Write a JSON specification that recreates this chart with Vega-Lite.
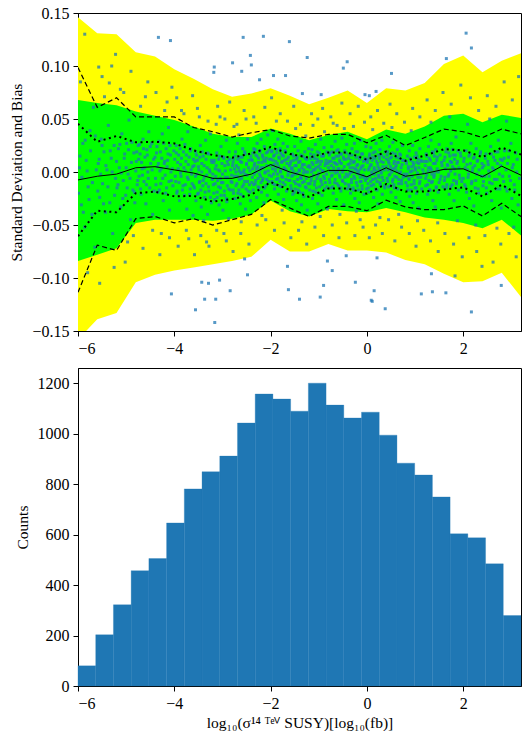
{
"$schema": "https://vega.github.io/schema/vega-lite/v6.json",
"padding": {"left": 9, "top": 4, "right": 0, "bottom": 0},
"autosize": {"type": "pad"},
"spacing": 10,
"config": {
 "font": "Liberation Serif",
 "view": {"stroke": "black", "strokeWidth": 1},
 "axis": {"grid": false, "domainColor": "black", "tickColor": "black", "labelColor": "black", "titleColor": "black", "labelFont": "Liberation Serif", "titleFont": "Liberation Serif", "labelFontSize": 16, "titleFontSize": 15.5, "titleFontWeight": "normal", "tickSize": 5, "labelPadding": 4, "titlePadding": 7}
},
"datasets": {
 "curves": [
  {"x":-6.0,"yl":-0.158,"yh":0.146,"gl":-0.084,"gh":0.068,"dl":-0.1135,"dh":0.0985,"ol":-0.0605,"oh":0.0455,"m":-0.0075},
  {"x":-5.6,"yl":-0.139,"yh":0.131,"gl":-0.078,"gh":0.065,"dl":-0.069,"dh":0.061,"ol":-0.0365,"oh":0.0285,"m":-0.004},
  {"x":-5.2,"yl":-0.133,"yh":0.130,"gl":-0.072,"gh":0.063,"dl":-0.074,"dh":0.070,"ol":-0.038,"oh":0.034,"m":-0.002},
  {"x":-4.8,"yl":-0.104,"yh":0.113,"gl":-0.048,"gh":0.057,"dl":-0.044,"dh":0.052,"ol":-0.020,"oh":0.028,"m":0.004},
  {"x":-4.4,"yl":-0.097,"yh":0.109,"gl":-0.045,"gh":0.053,"dl":-0.042,"dh":0.052,"ol":-0.0185,"oh":0.0285,"m":0.005},
  {"x":-4.0,"yl":-0.093,"yh":0.097,"gl":-0.045,"gh":0.049,"dl":-0.048,"dh":0.052,"ol":-0.023,"oh":0.027,"m":0.002},
  {"x":-3.6,"yl":-0.090,"yh":0.088,"gl":-0.045,"gh":0.043,"dl":-0.044,"dh":0.042,"ol":-0.0225,"oh":0.0205,"m":-0.001},
  {"x":-3.2,"yl":-0.087,"yh":0.078,"gl":-0.046,"gh":0.036,"dl":-0.050,"dh":0.038,"ol":-0.028,"oh":0.016,"m":-0.006},
  {"x":-2.8,"yl":-0.084,"yh":0.071,"gl":-0.044,"gh":0.033,"dl":-0.045,"dh":0.033,"ol":-0.0255,"oh":0.0135,"m":-0.006},
  {"x":-2.4,"yl":-0.080,"yh":0.074,"gl":-0.040,"gh":0.033,"dl":-0.040,"dh":0.037,"ol":-0.0215,"oh":0.0175,"m":-0.002},
  {"x":-2.0,"yl":-0.064,"yh":0.079,"gl":-0.027,"gh":0.041,"dl":-0.026,"dh":0.040,"ol":-0.0095,"oh":0.0235,"m":0.007},
  {"x":-1.6,"yl":-0.075,"yh":0.072,"gl":-0.037,"gh":0.036,"dl":-0.034,"dh":0.034,"ol":-0.017,"oh":0.017,"m":0.000},
  {"x":-1.2,"yl":-0.075,"yh":0.064,"gl":-0.042,"gh":0.030,"dl":-0.042,"dh":0.032,"ol":-0.0235,"oh":0.0135,"m":-0.005},
  {"x":-0.8,"yl":-0.068,"yh":0.070,"gl":-0.035,"gh":0.035,"dl":-0.0325,"dh":0.0355,"ol":-0.0155,"oh":0.0185,"m":0.0015},
  {"x":-0.4,"yl":-0.074,"yh":0.077,"gl":-0.037,"gh":0.038,"dl":-0.0325,"dh":0.0355,"ol":-0.0155,"oh":0.0185,"m":0.0015},
  {"x":0.0,"yl":-0.074,"yh":0.065,"gl":-0.038,"gh":0.031,"dl":-0.0365,"dh":0.0275,"ol":-0.0205,"oh":0.0115,"m":-0.0045},
  {"x":0.4,"yl":-0.076,"yh":0.079,"gl":-0.034,"gh":0.040,"dl":-0.0266,"dh":0.0346,"ol":-0.0113,"oh":0.0193,"m":0.004},
  {"x":0.8,"yl":-0.083,"yh":0.077,"gl":-0.038,"gh":0.036,"dl":-0.033,"dh":0.025,"ol":-0.0185,"oh":0.0105,"m":-0.004},
  {"x":1.2,"yl":-0.087,"yh":0.084,"gl":-0.043,"gh":0.043,"dl":-0.0355,"dh":0.0325,"ol":-0.0185,"oh":0.0155,"m":-0.0015},
  {"x":1.6,"yl":-0.096,"yh":0.102,"gl":-0.045,"gh":0.053,"dl":-0.0355,"dh":0.0405,"ol":-0.0165,"oh":0.0215,"m":0.0025},
  {"x":2.0,"yl":-0.104,"yh":0.110,"gl":-0.048,"gh":0.055,"dl":-0.032,"dh":0.038,"ol":-0.0145,"oh":0.0205,"m":0.003},
  {"x":2.4,"yl":-0.103,"yh":0.094,"gl":-0.053,"gh":0.047,"dl":-0.0415,"dh":0.0325,"ol":-0.023,"oh":0.014,"m":-0.0045},
  {"x":2.8,"yl":-0.095,"yh":0.105,"gl":-0.045,"gh":0.054,"dl":-0.0295,"dh":0.0405,"ol":-0.012,"oh":0.023,"m":0.0055},
  {"x":3.2,"yl":-0.118,"yh":0.112,"gl":-0.060,"gh":0.051,"dl":-0.042,"dh":0.036,"ol":-0.0225,"oh":0.0165,"m":-0.003}
 ],
 "hist": [
  {"bin_start":-6.0,"bin_end":-5.632,"count":80},
  {"bin_start":-5.632,"bin_end":-5.264,"count":203},
  {"bin_start":-5.264,"bin_end":-4.896,"count":322},
  {"bin_start":-4.896,"bin_end":-4.528,"count":457},
  {"bin_start":-4.528,"bin_end":-4.16,"count":505},
  {"bin_start":-4.16,"bin_end":-3.792,"count":646},
  {"bin_start":-3.792,"bin_end":-3.424,"count":781},
  {"bin_start":-3.424,"bin_end":-3.056,"count":849},
  {"bin_start":-3.056,"bin_end":-2.688,"count":911},
  {"bin_start":-2.688,"bin_end":-2.32,"count":1042},
  {"bin_start":-2.32,"bin_end":-1.952,"count":1157},
  {"bin_start":-1.952,"bin_end":-1.584,"count":1137},
  {"bin_start":-1.584,"bin_end":-1.216,"count":1089},
  {"bin_start":-1.216,"bin_end":-0.848,"count":1200},
  {"bin_start":-0.848,"bin_end":-0.48,"count":1113},
  {"bin_start":-0.48,"bin_end":-0.112,"count":1062},
  {"bin_start":-0.112,"bin_end":0.256,"count":1085},
  {"bin_start":0.256,"bin_end":0.624,"count":994},
  {"bin_start":0.624,"bin_end":0.992,"count":883},
  {"bin_start":0.992,"bin_end":1.36,"count":836},
  {"bin_start":1.36,"bin_end":1.728,"count":749},
  {"bin_start":1.728,"bin_end":2.096,"count":603},
  {"bin_start":2.096,"bin_end":2.464,"count":587},
  {"bin_start":2.464,"bin_end":2.832,"count":484},
  {"bin_start":2.832,"bin_end":3.2,"count":279}
 ],
 "points": [
{"x":-5.97,"y":0.004},{"x":-5.93,"y":-0.031},{"x":-5.90,"y":0.027},{"x":-5.86,"y":-0.052},{"x":-5.83,"y":0.011},{"x":-5.79,"y":-0.014},{"x":-5.75,"y":0.039},{"x":-5.71,"y":-0.040},{"x":-5.68,"y":0.061},{"x":-5.65,"y":-0.071},{"x":-5.62,"y":0.002},{"x":-5.95,"y":0.085},{"x":-5.80,"y":-0.095},
{"x":-5.58,"y":0.008},{"x":-5.55,"y":-0.024},{"x":-5.52,"y":0.031},{"x":-5.49,"y":-0.011},{"x":-5.46,"y":0.019},{"x":-5.43,"y":-0.038},{"x":-5.40,"y":0.002},{"x":-5.37,"y":0.044},{"x":-5.34,"y":-0.029},{"x":-5.31,"y":0.013},{"x":-5.28,"y":-0.058},{"x":-5.25,"y":0.025},{"x":-5.22,"y":-0.006},{"x":-5.45,"y":0.071},
{"x":-5.19,"y":-0.015},{"x":-5.16,"y":0.022},{"x":-5.14,"y":0.004},{"x":-5.11,"y":-0.033},{"x":-5.09,"y":0.036},{"x":-5.06,"y":-0.008},{"x":-5.04,"y":0.013},{"x":-5.01,"y":-0.022},{"x":-4.99,"y":0.027},{"x":-4.96,"y":-0.002},{"x":-4.94,"y":0.049},{"x":-4.91,"y":-0.045},{"x":-4.89,"y":0.009},{"x":-4.86,"y":-0.017},{"x":-4.84,"y":0.018},{"x":-4.82,"y":-0.029},{"x":-5.12,"y":0.078},{"x":-4.97,"y":-0.066},
{"x":-4.79,"y":0.010},{"x":-4.77,"y":-0.012},{"x":-4.75,"y":0.025},{"x":-4.73,"y":-0.004},{"x":-4.71,"y":0.017},{"x":-4.69,"y":-0.021},{"x":-4.67,"y":0.003},{"x":-4.65,"y":0.031},{"x":-4.63,"y":-0.009},{"x":-4.61,"y":0.014},{"x":-4.59,"y":-0.030},{"x":-4.57,"y":0.021},{"x":-4.55,"y":0.000},{"x":-4.53,"y":0.038},{"x":-4.51,"y":-0.015},{"x":-4.49,"y":0.008},{"x":-4.47,"y":0.027},{"x":-4.45,"y":-0.040},{"x":-4.43,"y":0.012},{"x":-4.60,"y":0.071},
{"x":-4.39,"y":-0.006},{"x":-4.37,"y":0.018},{"x":-4.35,"y":0.005},{"x":-4.34,"y":-0.019},{"x":-4.32,"y":0.029},{"x":-4.30,"y":0.001},{"x":-4.28,"y":-0.011},{"x":-4.26,"y":0.013},{"x":-4.25,"y":0.036},{"x":-4.23,"y":-0.027},{"x":-4.21,"y":0.008},{"x":-4.19,"y":-0.003},{"x":-4.17,"y":0.022},{"x":-4.16,"y":-0.015},{"x":-4.14,"y":0.011},{"x":-4.12,"y":0.042},{"x":-4.10,"y":-0.036},{"x":-4.08,"y":0.016},{"x":-4.06,"y":-0.008},{"x":-4.04,"y":0.003},{"x":-4.27,"y":-0.058},{"x":-4.15,"y":0.066},
{"x":-3.99,"y":0.012},{"x":-3.97,"y":-0.009},{"x":-3.96,"y":0.025},{"x":-3.94,"y":-0.018},{"x":-3.92,"y":0.003},{"x":-3.91,"y":0.016},{"x":-3.89,"y":-0.027},{"x":-3.87,"y":0.007},{"x":-3.86,"y":-0.004},{"x":-3.84,"y":0.031},{"x":-3.82,"y":-0.013},{"x":-3.81,"y":0.019},{"x":-3.79,"y":-0.022},{"x":-3.77,"y":0.001},{"x":-3.76,"y":0.010},{"x":-3.74,"y":-0.035},{"x":-3.72,"y":0.038},{"x":-3.71,"y":-0.007},{"x":-3.69,"y":0.014},{"x":-3.67,"y":-0.016},{"x":-3.66,"y":0.022},{"x":-3.64,"y":-0.002},{"x":-3.62,"y":0.005},{"x":-3.61,"y":-0.041},{"x":-3.85,"y":0.058},{"x":-3.70,"y":-0.063},
{"x":-3.59,"y":0.006},{"x":-3.58,"y":-0.015},{"x":-3.56,"y":0.019},{"x":-3.55,"y":-0.027},{"x":-3.53,"y":-0.002},{"x":-3.52,"y":0.011},{"x":-3.50,"y":-0.020},{"x":-3.49,"y":0.002},{"x":-3.47,"y":-0.009},{"x":-3.46,"y":0.025},{"x":-3.44,"y":-0.033},{"x":-3.43,"y":0.008},{"x":-3.41,"y":-0.013},{"x":-3.40,"y":0.015},{"x":-3.38,"y":-0.005},{"x":-3.37,"y":-0.024},{"x":-3.35,"y":0.030},{"x":-3.34,"y":-0.011},{"x":-3.32,"y":0.004},{"x":-3.31,"y":-0.040},{"x":-3.29,"y":0.017},{"x":-3.28,"y":-0.018},{"x":-3.26,"y":0.000},{"x":-3.25,"y":0.036},{"x":-3.23,"y":-0.029},{"x":-3.22,"y":0.009},{"x":-3.21,"y":-0.007},{"x":-3.48,"y":0.052},{"x":-3.33,"y":-0.066},{"x":-3.39,"y":-0.046},
{"x":-3.19,"y":-0.012},{"x":-3.18,"y":0.009},{"x":-3.16,"y":-0.026},{"x":-3.15,"y":0.003},{"x":-3.14,"y":-0.004},{"x":-3.12,"y":0.018},{"x":-3.11,"y":-0.019},{"x":-3.10,"y":-0.008},{"x":-3.08,"y":0.012},{"x":-3.07,"y":-0.031},{"x":-3.06,"y":0.001},{"x":-3.04,"y":-0.015},{"x":-3.03,"y":0.024},{"x":-3.02,"y":-0.010},{"x":-3.00,"y":-0.002},{"x":-2.99,"y":-0.036},{"x":-2.98,"y":0.014},{"x":-2.96,"y":-0.022},{"x":-2.95,"y":0.006},{"x":-2.94,"y":-0.005},{"x":-2.92,"y":0.030},{"x":-2.91,"y":-0.028},{"x":-2.90,"y":-0.013},{"x":-2.88,"y":0.007},{"x":-2.87,"y":-0.044},{"x":-2.86,"y":0.019},{"x":-2.84,"y":-0.017},{"x":-2.83,"y":0.002},{"x":-2.82,"y":-0.009},{"x":-3.13,"y":0.045},{"x":-2.97,"y":-0.058},{"x":-3.05,"y":0.052},
{"x":-2.79,"y":0.006},{"x":-2.78,"y":-0.017},{"x":-2.77,"y":0.012},{"x":-2.75,"y":-0.004},{"x":-2.74,"y":-0.025},{"x":-2.73,"y":0.019},{"x":-2.72,"y":0.000},{"x":-2.70,"y":-0.011},{"x":-2.69,"y":0.027},{"x":-2.68,"y":-0.020},{"x":-2.67,"y":0.004},{"x":-2.65,"y":-0.007},{"x":-2.64,"y":0.014},{"x":-2.63,"y":-0.030},{"x":-2.62,"y":-0.001},{"x":-2.60,"y":0.009},{"x":-2.59,"y":-0.014},{"x":-2.58,"y":0.022},{"x":-2.57,"y":-0.023},{"x":-2.55,"y":0.002},{"x":-2.54,"y":-0.009},{"x":-2.53,"y":0.017},{"x":-2.52,"y":-0.035},{"x":-2.50,"y":0.007},{"x":-2.49,"y":-0.003},{"x":-2.48,"y":0.031},{"x":-2.47,"y":-0.018},{"x":-2.45,"y":0.011},{"x":-2.44,"y":-0.012},{"x":-2.43,"y":0.001},{"x":-2.42,"y":-0.027},{"x":-2.41,"y":0.015},{"x":-2.76,"y":0.043},{"x":-2.61,"y":-0.047},{"x":-2.51,"y":0.050},{"x":-2.66,"y":0.035},
{"x":-2.39,"y":-0.010},{"x":-2.38,"y":0.011},{"x":-2.37,"y":0.003},{"x":-2.36,"y":-0.017},{"x":-2.35,"y":0.022},{"x":-2.34,"y":-0.002},{"x":-2.33,"y":0.008},{"x":-2.32,"y":-0.011},{"x":-2.31,"y":0.016},{"x":-2.30,"y":0.000},{"x":-2.29,"y":-0.024},{"x":-2.28,"y":0.027},{"x":-2.27,"y":0.005},{"x":-2.26,"y":-0.006},{"x":-2.25,"y":0.013},{"x":-2.24,"y":-0.015},{"x":-2.23,"y":0.019},{"x":-2.22,"y":0.002},{"x":-2.21,"y":-0.004},{"x":-2.20,"y":0.031},{"x":-2.19,"y":-0.019},{"x":-2.18,"y":0.009},{"x":-2.17,"y":-0.008},{"x":-2.16,"y":0.014},{"x":-2.15,"y":0.004},{"x":-2.14,"y":-0.029},{"x":-2.13,"y":0.024},{"x":-2.12,"y":-0.001},{"x":-2.11,"y":0.010},{"x":-2.10,"y":-0.013},{"x":-2.09,"y":0.018},{"x":-2.08,"y":0.006},{"x":-2.07,"y":-0.022},{"x":-2.06,"y":0.035},{"x":-2.05,"y":0.001},{"x":-2.04,"y":-0.009},{"x":-2.03,"y":0.021},{"x":-2.02,"y":0.012},{"x":-2.30,"y":0.046},{"x":-2.18,"y":-0.041},
{"x":-1.99,"y":0.012},{"x":-1.98,"y":-0.004},{"x":-1.97,"y":0.020},{"x":-1.96,"y":0.003},{"x":-1.95,"y":-0.011},{"x":-1.94,"y":0.015},{"x":-1.93,"y":0.007},{"x":-1.92,"y":-0.016},{"x":-1.91,"y":0.026},{"x":-1.90,"y":0.001},{"x":-1.89,"y":0.010},{"x":-1.88,"y":-0.007},{"x":-1.87,"y":0.018},{"x":-1.86,"y":-0.002},{"x":-1.85,"y":0.031},{"x":-1.84,"y":-0.021},{"x":-1.83,"y":0.005},{"x":-1.82,"y":0.013},{"x":-1.81,"y":-0.009},{"x":-1.80,"y":0.022},{"x":-1.79,"y":0.000},{"x":-1.78,"y":-0.014},{"x":-1.77,"y":0.009},{"x":-1.76,"y":0.016},{"x":-1.75,"y":-0.005},{"x":-1.74,"y":0.027},{"x":-1.73,"y":-0.026},{"x":-1.72,"y":0.004},{"x":-1.71,"y":0.011},{"x":-1.70,"y":-0.012},{"x":-1.69,"y":0.019},{"x":-1.68,"y":0.002},{"x":-1.67,"y":-0.018},{"x":-1.66,"y":0.008},{"x":-1.65,"y":0.024},{"x":-1.64,"y":-0.003},{"x":-1.63,"y":0.014},{"x":-1.62,"y":-0.008},{"x":-1.61,"y":0.006},{"x":-1.88,"y":0.048},{"x":-1.76,"y":-0.036},{"x":-1.96,"y":0.039},
{"x":-1.59,"y":0.008},{"x":-1.58,"y":-0.013},{"x":-1.57,"y":0.003},{"x":-1.56,"y":-0.004},{"x":-1.55,"y":0.017},{"x":-1.54,"y":-0.021},{"x":-1.53,"y":0.001},{"x":-1.52,"y":0.011},{"x":-1.51,"y":-0.009},{"x":-1.50,"y":0.024},{"x":-1.49,"y":-0.016},{"x":-1.48,"y":-0.002},{"x":-1.47,"y":0.006},{"x":-1.46,"y":-0.027},{"x":-1.45,"y":0.014},{"x":-1.44,"y":-0.007},{"x":-1.43,"y":0.020},{"x":-1.42,"y":-0.012},{"x":-1.41,"y":0.002},{"x":-1.40,"y":-0.019},{"x":-1.39,"y":0.010},{"x":-1.38,"y":-0.005},{"x":-1.37,"y":0.029},{"x":-1.36,"y":-0.031},{"x":-1.35,"y":0.004},{"x":-1.34,"y":-0.010},{"x":-1.33,"y":0.015},{"x":-1.32,"y":-0.001},{"x":-1.31,"y":-0.023},{"x":-1.30,"y":0.007},{"x":-1.29,"y":0.019},{"x":-1.28,"y":-0.014},{"x":-1.27,"y":0.000},{"x":-1.26,"y":-0.006},{"x":-1.25,"y":0.012},{"x":-1.24,"y":-0.036},{"x":-1.23,"y":0.005},{"x":-1.22,"y":-0.011},{"x":-1.21,"y":0.022},{"x":-1.48,"y":0.041},{"x":-1.35,"y":-0.047},{"x":-1.27,"y":0.034},
{"x":-1.19,"y":-0.017},{"x":-1.18,"y":0.004},{"x":-1.17,"y":0.013},{"x":-1.16,"y":-0.008},{"x":-1.15,"y":0.000},{"x":-1.14,"y":0.021},{"x":-1.13,"y":-0.025},{"x":-1.12,"y":0.007},{"x":-1.11,"y":-0.003},{"x":-1.10,"y":0.016},{"x":-1.09,"y":-0.012},{"x":-1.08,"y":0.002},{"x":-1.07,"y":0.026},{"x":-1.06,"y":-0.019},{"x":-1.05,"y":0.009},{"x":-1.04,"y":-0.006},{"x":-1.03,"y":0.012},{"x":-1.02,"y":-0.030},{"x":-1.01,"y":0.005},{"x":-1.00,"y":-0.001},{"x":-0.99,"y":0.018},{"x":-0.98,"y":-0.014},{"x":-0.97,"y":0.003},{"x":-0.96,"y":0.031},{"x":-0.95,"y":-0.009},{"x":-0.94,"y":0.010},{"x":-0.93,"y":-0.022},{"x":-0.92,"y":0.001},{"x":-0.91,"y":0.015},{"x":-0.90,"y":-0.004},{"x":-0.89,"y":0.023},{"x":-0.88,"y":-0.016},{"x":-0.87,"y":0.006},{"x":-0.86,"y":-0.010},{"x":-0.85,"y":0.011},{"x":-0.84,"y":-0.002},{"x":-0.83,"y":0.019},{"x":-0.82,"y":-0.035},{"x":-0.81,"y":0.008},{"x":-1.12,"y":0.044},{"x":-0.97,"y":-0.042},{"x":-0.88,"y":0.038},
{"x":-0.79,"y":0.010},{"x":-0.78,"y":-0.007},{"x":-0.77,"y":0.018},{"x":-0.76,"y":0.001},{"x":-0.75,"y":-0.015},{"x":-0.74,"y":0.006},{"x":-0.73,"y":0.024},{"x":-0.72,"y":-0.003},{"x":-0.71,"y":0.013},{"x":-0.70,"y":-0.020},{"x":-0.69,"y":0.004},{"x":-0.68,"y":0.009},{"x":-0.67,"y":-0.010},{"x":-0.66,"y":0.029},{"x":-0.65,"y":-0.001},{"x":-0.64,"y":0.015},{"x":-0.63,"y":-0.026},{"x":-0.62,"y":0.007},{"x":-0.61,"y":0.000},{"x":-0.60,"y":0.021},{"x":-0.59,"y":-0.013},{"x":-0.58,"y":0.003},{"x":-0.57,"y":0.011},{"x":-0.56,"y":-0.005},{"x":-0.55,"y":0.017},{"x":-0.54,"y":-0.018},{"x":-0.53,"y":0.008},{"x":-0.52,"y":0.032},{"x":-0.51,"y":-0.008},{"x":-0.50,"y":0.002},{"x":-0.49,"y":0.014},{"x":-0.48,"y":-0.031},{"x":-0.47,"y":0.005},{"x":-0.46,"y":0.020},{"x":-0.45,"y":-0.011},{"x":-0.44,"y":0.012},{"x":-0.43,"y":-0.002},{"x":-0.42,"y":0.026},{"x":-0.41,"y":-0.016},{"x":-0.70,"y":0.046},{"x":-0.56,"y":-0.040},{"x":-0.47,"y":0.041},
{"x":-0.39,"y":0.007},{"x":-0.38,"y":-0.012},{"x":-0.37,"y":0.016},{"x":-0.36,"y":-0.002},{"x":-0.35,"y":0.004},{"x":-0.34,"y":-0.020},{"x":-0.33,"y":0.011},{"x":-0.32,"y":-0.007},{"x":-0.31,"y":0.022},{"x":-0.30,"y":0.000},{"x":-0.29,"y":-0.015},{"x":-0.28,"y":0.009},{"x":-0.27,"y":-0.004},{"x":-0.26,"y":0.027},{"x":-0.25,"y":-0.025},{"x":-0.24,"y":0.003},{"x":-0.23,"y":0.014},{"x":-0.22,"y":-0.010},{"x":-0.21,"y":0.006},{"x":-0.20,"y":-0.001},{"x":-0.19,"y":0.019},{"x":-0.18,"y":-0.017},{"x":-0.17,"y":0.001},{"x":-0.16,"y":-0.029},{"x":-0.15,"y":0.012},{"x":-0.14,"y":-0.005},{"x":-0.13,"y":0.030},{"x":-0.12,"y":-0.009},{"x":-0.11,"y":0.005},{"x":-0.10,"y":-0.013},{"x":-0.09,"y":0.017},{"x":-0.08,"y":-0.003},{"x":-0.07,"y":0.010},{"x":-0.06,"y":-0.021},{"x":-0.05,"y":0.002},{"x":-0.04,"y":0.013},{"x":-0.03,"y":-0.008},{"x":-0.02,"y":0.024},{"x":-0.01,"y":-0.016},{"x":-0.28,"y":0.043},{"x":-0.14,"y":-0.045},{"x":-0.22,"y":-0.037},
{"x":0.01,"y":0.009},{"x":0.02,"y":-0.011},{"x":0.03,"y":0.002},{"x":0.04,"y":-0.019},{"x":0.05,"y":0.015},{"x":0.06,"y":-0.004},{"x":0.07,"y":0.006},{"x":0.08,"y":0.023},{"x":0.09,"y":-0.013},{"x":0.10,"y":0.000},{"x":0.11,"y":0.011},{"x":0.12,"y":-0.007},{"x":0.13,"y":0.018},{"x":0.14,"y":-0.024},{"x":0.15,"y":0.004},{"x":0.16,"y":-0.002},{"x":0.17,"y":0.013},{"x":0.18,"y":-0.016},{"x":0.19,"y":0.027},{"x":0.20,"y":0.001},{"x":0.21,"y":-0.009},{"x":0.22,"y":0.008},{"x":0.23,"y":-0.030},{"x":0.24,"y":0.016},{"x":0.25,"y":-0.005},{"x":0.26,"y":0.003},{"x":0.27,"y":0.021},{"x":0.28,"y":-0.012},{"x":0.29,"y":0.010},{"x":0.30,"y":-0.001},{"x":0.31,"y":0.030},{"x":0.32,"y":-0.021},{"x":0.33,"y":0.005},{"x":0.34,"y":-0.008},{"x":0.35,"y":0.014},{"x":0.36,"y":0.002},{"x":0.37,"y":-0.015},{"x":0.38,"y":0.019},{"x":0.12,"y":0.040},{"x":0.27,"y":-0.043},
{"x":0.41,"y":0.012},{"x":0.42,"y":-0.006},{"x":0.43,"y":0.019},{"x":0.44,"y":0.002},{"x":0.45,"y":-0.014},{"x":0.46,"y":0.008},{"x":0.47,"y":0.024},{"x":0.48,"y":-0.002},{"x":0.49,"y":0.005},{"x":0.50,"y":-0.019},{"x":0.51,"y":0.014},{"x":0.52,"y":0.000},{"x":0.53,"y":-0.009},{"x":0.54,"y":0.028},{"x":0.55,"y":0.003},{"x":0.56,"y":-0.012},{"x":0.57,"y":0.010},{"x":0.58,"y":-0.004},{"x":0.59,"y":0.017},{"x":0.60,"y":-0.024},{"x":0.61,"y":0.006},{"x":0.62,"y":0.001},{"x":0.63,"y":0.021},{"x":0.64,"y":-0.016},{"x":0.65,"y":0.009},{"x":0.66,"y":-0.007},{"x":0.67,"y":0.013},{"x":0.68,"y":-0.001},{"x":0.69,"y":-0.028},{"x":0.70,"y":0.016},{"x":0.71,"y":0.004},{"x":0.72,"y":-0.011},{"x":0.73,"y":0.007},{"x":0.74,"y":0.025},{"x":0.75,"y":-0.005},{"x":0.77,"y":0.011},{"x":0.52,"y":0.042},{"x":0.66,"y":-0.040},
{"x":0.81,"y":-0.010},{"x":0.82,"y":0.008},{"x":0.83,"y":-0.002},{"x":0.84,"y":0.015},{"x":0.85,"y":-0.017},{"x":0.86,"y":0.003},{"x":0.87,"y":-0.006},{"x":0.88,"y":0.020},{"x":0.89,"y":-0.023},{"x":0.90,"y":0.000},{"x":0.91,"y":0.011},{"x":0.92,"y":-0.012},{"x":0.93,"y":0.005},{"x":0.94,"y":-0.004},{"x":0.95,"y":0.025},{"x":0.96,"y":-0.029},{"x":0.97,"y":0.007},{"x":0.98,"y":-0.008},{"x":0.99,"y":0.014},{"x":1.00,"y":-0.015},{"x":1.01,"y":0.002},{"x":1.02,"y":0.018},{"x":1.03,"y":-0.020},{"x":1.04,"y":0.009},{"x":1.05,"y":-0.001},{"x":1.06,"y":0.012},{"x":1.07,"y":-0.034},{"x":1.08,"y":0.004},{"x":1.09,"y":-0.011},{"x":1.10,"y":0.022},{"x":1.12,"y":-0.005},{"x":1.14,"y":0.010},{"x":0.92,"y":0.039},{"x":1.05,"y":-0.046},
{"x":1.21,"y":0.006},{"x":1.22,"y":-0.013},{"x":1.23,"y":0.017},{"x":1.24,"y":-0.003},{"x":1.25,"y":0.010},{"x":1.26,"y":-0.021},{"x":1.27,"y":0.001},{"x":1.28,"y":0.024},{"x":1.29,"y":-0.008},{"x":1.30,"y":0.013},{"x":1.31,"y":-0.017},{"x":1.32,"y":0.004},{"x":1.33,"y":0.030},{"x":1.34,"y":-0.010},{"x":1.35,"y":-0.002},{"x":1.36,"y":0.019},{"x":1.37,"y":-0.027},{"x":1.38,"y":0.008},{"x":1.39,"y":-0.005},{"x":1.40,"y":0.015},{"x":1.41,"y":0.000},{"x":1.42,"y":-0.033},{"x":1.43,"y":0.021},{"x":1.44,"y":-0.014},{"x":1.45,"y":0.011},{"x":1.46,"y":0.003},{"x":1.48,"y":-0.019},{"x":1.50,"y":0.026},{"x":1.52,"y":-0.007},{"x":1.55,"y":0.009},{"x":1.33,"y":0.047},{"x":1.47,"y":-0.048},
{"x":1.61,"y":-0.008},{"x":1.62,"y":0.014},{"x":1.63,"y":0.003},{"x":1.65,"y":-0.015},{"x":1.66,"y":0.022},{"x":1.67,"y":0.007},{"x":1.69,"y":-0.004},{"x":1.70,"y":0.018},{"x":1.71,"y":-0.021},{"x":1.73,"y":0.010},{"x":1.74,"y":0.001},{"x":1.75,"y":0.027},{"x":1.77,"y":-0.012},{"x":1.78,"y":0.005},{"x":1.79,"y":0.016},{"x":1.81,"y":-0.027},{"x":1.82,"y":0.012},{"x":1.83,"y":-0.002},{"x":1.85,"y":0.033},{"x":1.86,"y":-0.009},{"x":1.87,"y":0.008},{"x":1.89,"y":0.020},{"x":1.90,"y":-0.017},{"x":1.91,"y":0.004},{"x":1.93,"y":-0.006},{"x":1.95,"y":0.015},{"x":1.72,"y":0.052},{"x":1.88,"y":-0.046},
{"x":2.01,"y":0.010},{"x":2.03,"y":-0.012},{"x":2.04,"y":0.004},{"x":2.06,"y":0.020},{"x":2.07,"y":-0.019},{"x":2.09,"y":0.002},{"x":2.10,"y":-0.005},{"x":2.12,"y":0.015},{"x":2.13,"y":-0.025},{"x":2.15,"y":0.008},{"x":2.16,"y":0.027},{"x":2.18,"y":-0.009},{"x":2.19,"y":0.001},{"x":2.21,"y":0.013},{"x":2.22,"y":-0.032},{"x":2.24,"y":0.006},{"x":2.25,"y":-0.015},{"x":2.27,"y":0.022},{"x":2.28,"y":-0.002},{"x":2.30,"y":0.011},{"x":2.32,"y":-0.020},{"x":2.35,"y":0.017},{"x":2.09,"y":0.045},{"x":2.26,"y":-0.050},
{"x":2.41,"y":-0.013},{"x":2.43,"y":0.006},{"x":2.45,"y":-0.004},{"x":2.47,"y":0.017},{"x":2.49,"y":-0.020},{"x":2.51,"y":0.010},{"x":2.53,"y":0.001},{"x":2.55,"y":-0.010},{"x":2.57,"y":0.024},{"x":2.59,"y":-0.027},{"x":2.61,"y":0.004},{"x":2.63,"y":0.014},{"x":2.65,"y":-0.007},{"x":2.67,"y":0.019},{"x":2.69,"y":-0.016},{"x":2.71,"y":0.008},{"x":2.73,"y":0.030},{"x":2.75,"y":-0.002},{"x":2.77,"y":0.012},{"x":2.79,"y":-0.034},{"x":2.55,"y":0.050},{"x":2.70,"y":-0.053},
{"x":2.81,"y":0.011},{"x":2.84,"y":-0.009},{"x":2.86,"y":0.020},{"x":2.89,"y":0.002},{"x":2.91,"y":-0.018},{"x":2.94,"y":0.014},{"x":2.96,"y":-0.004},{"x":2.99,"y":0.027},{"x":3.01,"y":-0.025},{"x":3.04,"y":0.007},{"x":3.06,"y":-0.012},{"x":3.09,"y":0.018},{"x":3.11,"y":0.000},{"x":3.14,"y":-0.031},{"x":2.90,"y":0.048},{"x":3.05,"y":-0.052},
{"x":-5.99,"y":-0.020},{"x":-5.96,"y":0.015},{"x":-5.92,"y":-0.005},{"x":-5.89,"y":-0.038},{"x":-5.85,"y":0.030},{"x":-5.81,"y":0.001},{"x":-5.77,"y":-0.026},{"x":-5.74,"y":0.020},{"x":-5.70,"y":-0.010},{"x":-5.64,"y":0.034},
{"x":-5.59,"y":-0.018},{"x":-5.56,"y":0.012},{"x":-5.53,"y":-0.002},{"x":-5.50,"y":0.025},{"x":-5.47,"y":-0.030},{"x":-5.42,"y":0.006},{"x":-5.38,"y":-0.014},{"x":-5.33,"y":0.020},{"x":-5.29,"y":0.000},{"x":-5.24,"y":-0.022},
{"x":-5.20,"y":0.010},{"x":-5.17,"y":-0.012},{"x":-5.13,"y":0.026},{"x":-5.10,"y":-0.001},{"x":-5.07,"y":-0.025},{"x":-5.03,"y":0.017},{"x":-5.00,"y":0.004},{"x":-4.98,"y":-0.015},{"x":-4.95,"y":0.021},{"x":-4.92,"y":-0.006},{"x":-4.88,"y":0.028},{"x":-4.83,"y":-0.019},
{"x":-4.80,"y":0.001},{"x":-4.78,"y":0.019},{"x":-4.76,"y":-0.008},{"x":-4.74,"y":0.012},{"x":-4.72,"y":0.026},{"x":-4.70,"y":-0.016},{"x":-4.68,"y":0.009},{"x":-4.66,"y":-0.003},{"x":-4.64,"y":0.022},{"x":-4.62,"y":0.004},{"x":-4.58,"y":-0.012},{"x":-4.56,"y":0.016},{"x":-4.54,"y":-0.006},{"x":-4.50,"y":0.024},{"x":-4.46,"y":0.002},{"x":-4.42,"y":-0.018},
{"x":-4.40,"y":0.014},{"x":-4.38,"y":-0.012},{"x":-4.36,"y":0.024},{"x":-4.33,"y":0.008},{"x":-4.31,"y":-0.017},{"x":-4.29,"y":0.019},{"x":-4.27,"y":0.003},{"x":-4.24,"y":-0.006},{"x":-4.22,"y":0.027},{"x":-4.20,"y":0.010},{"x":-4.18,"y":-0.020},{"x":-4.15,"y":0.005},{"x":-4.13,"y":0.017},{"x":-4.11,"y":-0.009},{"x":-4.09,"y":0.025},{"x":-4.07,"y":0.000},{"x":-4.03,"y":-0.013},{"x":-4.01,"y":0.020},
{"x":-3.98,"y":-0.004},{"x":-3.96,"y":0.018},{"x":-3.95,"y":-0.020},{"x":-3.93,"y":0.009},{"x":-3.90,"y":-0.010},{"x":-3.88,"y":0.022},{"x":-3.87,"y":-0.001},{"x":-3.85,"y":0.013},{"x":-3.83,"y":-0.017},{"x":-3.80,"y":0.004},{"x":-3.78,"y":0.026},{"x":-3.77,"y":-0.012},{"x":-3.75,"y":0.016},{"x":-3.73,"y":-0.005},{"x":-3.71,"y":0.007},{"x":-3.68,"y":-0.021},{"x":-3.67,"y":0.020},{"x":-3.65,"y":0.002},{"x":-3.63,"y":-0.011},{"x":-3.60,"y":0.012},
{"x":-3.60,"y":-0.013},{"x":-3.57,"y":0.010},{"x":-3.56,"y":-0.004},{"x":-3.54,"y":0.016},{"x":-3.52,"y":-0.021},{"x":-3.50,"y":0.005},{"x":-3.48,"y":-0.010},{"x":-3.47,"y":0.014},{"x":-3.45,"y":-0.017},{"x":-3.43,"y":0.000},{"x":-3.42,"y":0.019},{"x":-3.40,"y":-0.008},{"x":-3.38,"y":0.006},{"x":-3.36,"y":-0.019},{"x":-3.34,"y":0.012},{"x":-3.33,"y":-0.003},{"x":-3.31,"y":0.018},{"x":-3.29,"y":-0.014},{"x":-3.27,"y":0.002},{"x":-3.25,"y":-0.024},{"x":-3.23,"y":0.011},{"x":-3.21,"y":-0.006},
{"x":-3.20,"y":-0.002},{"x":-3.18,"y":-0.020},{"x":-3.17,"y":0.011},{"x":-3.15,"y":-0.011},{"x":-3.13,"y":0.006},{"x":-3.11,"y":-0.024},{"x":-3.09,"y":0.002},{"x":-3.08,"y":-0.014},{"x":-3.06,"y":0.015},{"x":-3.04,"y":-0.006},{"x":-3.03,"y":-0.022},{"x":-3.01,"y":0.008},{"x":-2.99,"y":-0.010},{"x":-2.97,"y":0.013},{"x":-2.96,"y":-0.018},{"x":-2.94,"y":0.001},{"x":-2.92,"y":-0.025},{"x":-2.90,"y":0.010},{"x":-2.89,"y":-0.005},{"x":-2.87,"y":-0.016},{"x":-2.85,"y":0.012},{"x":-2.81,"y":-0.003},
{"x":-2.80,"y":-0.010},{"x":-2.78,"y":0.009},{"x":-2.77,"y":-0.020},{"x":-2.75,"y":0.003},{"x":-2.74,"y":0.015},{"x":-2.72,"y":-0.013},{"x":-2.71,"y":0.006},{"x":-2.69,"y":-0.004},{"x":-2.68,"y":0.012},{"x":-2.66,"y":-0.017},{"x":-2.65,"y":0.001},{"x":-2.63,"y":0.010},{"x":-2.62,"y":-0.021},{"x":-2.60,"y":-0.006},{"x":-2.59,"y":0.014},{"x":-2.57,"y":0.000},{"x":-2.56,"y":-0.012},{"x":-2.54,"y":0.019},{"x":-2.53,"y":-0.002},{"x":-2.51,"y":-0.016},{"x":-2.50,"y":0.008},{"x":-2.48,"y":-0.009},{"x":-2.46,"y":0.004},{"x":-2.43,"y":-0.019},
{"x":-2.40,"y":0.012},{"x":-2.38,"y":-0.005},{"x":-2.37,"y":0.018},{"x":-2.35,"y":-0.012},{"x":-2.34,"y":0.006},{"x":-2.32,"y":0.021},{"x":-2.31,"y":-0.008},{"x":-2.29,"y":0.003},{"x":-2.28,"y":0.015},{"x":-2.26,"y":-0.014},{"x":-2.25,"y":0.009},{"x":-2.23,"y":-0.002},{"x":-2.22,"y":0.020},{"x":-2.20,"y":-0.010},{"x":-2.19,"y":0.004},{"x":-2.17,"y":0.016},{"x":-2.16,"y":-0.006},{"x":-2.14,"y":0.011},{"x":-2.13,"y":-0.015},{"x":-2.11,"y":0.000},{"x":-2.09,"y":0.013},{"x":-2.08,"y":-0.007},{"x":-2.06,"y":0.019},{"x":-2.03,"y":-0.003},
{"x":-2.00,"y":0.006},{"x":-1.98,"y":0.019},{"x":-1.97,"y":-0.009},{"x":-1.95,"y":0.011},{"x":-1.94,"y":-0.002},{"x":-1.92,"y":0.016},{"x":-1.91,"y":-0.012},{"x":-1.89,"y":0.004},{"x":-1.88,"y":0.021},{"x":-1.86,"y":0.008},{"x":-1.85,"y":-0.006},{"x":-1.83,"y":0.014},{"x":-1.82,"y":-0.013},{"x":-1.80,"y":0.001},{"x":-1.79,"y":0.018},{"x":-1.77,"y":-0.004},{"x":-1.76,"y":0.010},{"x":-1.74,"y":-0.010},{"x":-1.73,"y":0.015},{"x":-1.71,"y":0.003},{"x":-1.70,"y":0.020},{"x":-1.68,"y":-0.007},{"x":-1.66,"y":0.012},{"x":-1.63,"y":0.000},
{"x":-1.60,"y":-0.008},{"x":-1.58,"y":0.010},{"x":-1.57,"y":-0.016},{"x":-1.55,"y":0.004},{"x":-1.54,"y":-0.003},{"x":-1.52,"y":0.015},{"x":-1.51,"y":-0.019},{"x":-1.49,"y":0.006},{"x":-1.48,"y":-0.011},{"x":-1.46,"y":0.012},{"x":-1.45,"y":-0.001},{"x":-1.43,"y":-0.017},{"x":-1.42,"y":0.009},{"x":-1.40,"y":0.001},{"x":-1.39,"y":-0.013},{"x":-1.37,"y":0.016},{"x":-1.36,"y":-0.006},{"x":-1.34,"y":0.007},{"x":-1.33,"y":-0.020},{"x":-1.31,"y":0.002},{"x":-1.30,"y":-0.009},{"x":-1.28,"y":0.013},{"x":-1.26,"y":-0.015},{"x":-1.23,"y":0.000},
{"x":-1.20,"y":0.006},{"x":-1.18,"y":-0.011},{"x":-1.17,"y":0.017},{"x":-1.15,"y":-0.005},{"x":-1.14,"y":0.009},{"x":-1.12,"y":-0.018},{"x":-1.11,"y":0.002},{"x":-1.09,"y":0.013},{"x":-1.08,"y":-0.009},{"x":-1.06,"y":0.004},{"x":-1.05,"y":-0.015},{"x":-1.03,"y":0.019},{"x":-1.02,"y":-0.003},{"x":-1.00,"y":0.010},{"x":-0.99,"y":-0.020},{"x":-0.97,"y":0.007},{"x":-0.96,"y":-0.007},{"x":-0.94,"y":0.015},{"x":-0.93,"y":-0.012},{"x":-0.91,"y":0.001},{"x":-0.90,"y":0.016},{"x":-0.88,"y":-0.006},{"x":-0.86,"y":0.008},{"x":-0.83,"y":-0.014},
{"x":-0.80,"y":0.004},{"x":-0.78,"y":0.016},{"x":-0.77,"y":-0.010},{"x":-0.75,"y":0.010},{"x":-0.74,"y":-0.004},{"x":-0.72,"y":0.019},{"x":-0.71,"y":-0.014},{"x":-0.69,"y":0.001},{"x":-0.68,"y":0.013},{"x":-0.66,"y":-0.007},{"x":-0.65,"y":0.008},{"x":-0.63,"y":0.020},{"x":-0.62,"y":-0.011},{"x":-0.60,"y":0.003},{"x":-0.59,"y":0.015},{"x":-0.57,"y":-0.003},{"x":-0.56,"y":0.009},{"x":-0.54,"y":-0.015},{"x":-0.53,"y":0.017},{"x":-0.51,"y":0.000},{"x":-0.50,"y":-0.009},{"x":-0.48,"y":0.012},{"x":-0.46,"y":-0.005},{"x":-0.43,"y":0.018},
{"x":-0.40,"y":-0.004},{"x":-0.38,"y":0.013},{"x":-0.37,"y":-0.014},{"x":-0.35,"y":0.008},{"x":-0.34,"y":0.000},{"x":-0.32,"y":-0.010},{"x":-0.31,"y":0.016},{"x":-0.29,"y":0.004},{"x":-0.28,"y":-0.017},{"x":-0.26,"y":0.010},{"x":-0.25,"y":-0.006},{"x":-0.23,"y":0.019},{"x":-0.22,"y":0.002},{"x":-0.20,"y":-0.013},{"x":-0.19,"y":0.007},{"x":-0.17,"y":-0.002},{"x":-0.16,"y":0.014},{"x":-0.14,"y":-0.009},{"x":-0.13,"y":0.003},{"x":-0.11,"y":0.017},{"x":-0.10,"y":-0.016},{"x":-0.08,"y":0.006},{"x":-0.06,"y":-0.005},{"x":-0.03,"y":0.011},
{"x":0.00,"y":-0.006},{"x":0.02,"y":0.012},{"x":0.03,"y":-0.015},{"x":0.05,"y":0.004},{"x":0.06,"y":0.017},{"x":0.08,"y":-0.009},{"x":0.09,"y":0.007},{"x":0.11,"y":-0.002},{"x":0.12,"y":0.014},{"x":0.14,"y":-0.012},{"x":0.15,"y":0.002},{"x":0.17,"y":0.019},{"x":0.18,"y":-0.006},{"x":0.20,"y":0.010},{"x":0.21,"y":-0.017},{"x":0.23,"y":0.005},{"x":0.24,"y":-0.003},{"x":0.26,"y":0.013},{"x":0.27,"y":-0.010},{"x":0.29,"y":0.001},{"x":0.30,"y":0.016},{"x":0.32,"y":-0.005},{"x":0.34,"y":0.009},{"x":0.37,"y":-0.013},
{"x":0.40,"y":0.005},{"x":0.42,"y":0.016},{"x":0.43,"y":-0.009},{"x":0.45,"y":0.010},{"x":0.46,"y":-0.003},{"x":0.48,"y":0.013},{"x":0.49,"y":-0.013},{"x":0.51,"y":0.002},{"x":0.53,"y":0.018},{"x":0.54,"y":-0.007},{"x":0.56,"y":0.008},{"x":0.57,"y":-0.015},{"x":0.59,"y":0.004},{"x":0.61,"y":0.014},{"x":0.62,"y":-0.005},{"x":0.64,"y":0.009},{"x":0.66,"y":-0.011},{"x":0.68,"y":0.017},{"x":0.70,"y":0.000},{"x":0.72,"y":-0.008},{"x":0.74,"y":0.011},{"x":0.77,"y":-0.002},
{"x":0.80,"y":-0.004},{"x":0.82,"y":0.010},{"x":0.84,"y":-0.013},{"x":0.86,"y":0.005},{"x":0.88,"y":-0.007},{"x":0.90,"y":0.013},{"x":0.92,"y":-0.017},{"x":0.94,"y":0.001},{"x":0.96,"y":0.009},{"x":0.98,"y":-0.011},{"x":1.00,"y":0.004},{"x":1.02,"y":-0.015},{"x":1.04,"y":0.015},{"x":1.06,"y":-0.005},{"x":1.08,"y":0.008},{"x":1.10,"y":-0.009},{"x":1.12,"y":0.011},{"x":1.14,"y":-0.016},{"x":1.16,"y":0.002},{"x":1.18,"y":-0.001},
{"x":1.20,"y":0.010},{"x":1.22,"y":-0.006},{"x":1.24,"y":0.015},{"x":1.26,"y":-0.012},{"x":1.28,"y":0.004},{"x":1.30,"y":-0.017},{"x":1.32,"y":0.011},{"x":1.34,"y":0.002},{"x":1.36,"y":-0.009},{"x":1.38,"y":0.018},{"x":1.40,"y":-0.003},{"x":1.42,"y":0.008},{"x":1.44,"y":-0.015},{"x":1.46,"y":0.014},{"x":1.48,"y":0.000},{"x":1.50,"y":-0.010},{"x":1.52,"y":0.016},{"x":1.54,"y":-0.004},{"x":1.56,"y":0.006},{"x":1.58,"y":-0.014},
{"x":1.60,"y":0.011},{"x":1.62,"y":-0.005},{"x":1.64,"y":0.019},{"x":1.66,"y":-0.012},{"x":1.68,"y":0.006},{"x":1.70,"y":-0.002},{"x":1.72,"y":0.015},{"x":1.74,"y":-0.014},{"x":1.76,"y":0.009},{"x":1.78,"y":0.021},{"x":1.80,"y":-0.008},{"x":1.82,"y":0.003},{"x":1.84,"y":0.016},{"x":1.86,"y":-0.011},{"x":1.88,"y":0.010},{"x":1.92,"y":-0.003},{"x":1.94,"y":0.018},{"x":1.97,"y":-0.009},
{"x":2.00,"y":-0.006},{"x":2.02,"y":0.013},{"x":2.05,"y":-0.014},{"x":2.08,"y":0.007},{"x":2.11,"y":-0.002},{"x":2.14,"y":0.017},{"x":2.17,"y":-0.011},{"x":2.20,"y":0.004},{"x":2.23,"y":0.014},{"x":2.26,"y":-0.008},{"x":2.29,"y":0.010},{"x":2.31,"y":-0.016},{"x":2.33,"y":0.002},{"x":2.36,"y":0.019},{"x":2.38,"y":-0.004},{"x":2.39,"y":0.008},
{"x":2.40,"y":0.004},{"x":2.42,"y":-0.009},{"x":2.46,"y":0.013},{"x":2.48,"y":-0.015},{"x":2.52,"y":0.007},{"x":2.54,"y":-0.004},{"x":2.58,"y":0.017},{"x":2.60,"y":-0.011},{"x":2.64,"y":0.002},{"x":2.66,"y":0.011},{"x":2.70,"y":-0.007},{"x":2.72,"y":0.019},{"x":2.76,"y":-0.016},{"x":2.78,"y":0.006},
{"x":2.82,"y":-0.004},{"x":2.85,"y":0.013},{"x":2.88,"y":-0.015},{"x":2.92,"y":0.008},{"x":2.95,"y":0.020},{"x":2.98,"y":-0.008},{"x":3.02,"y":0.004},{"x":3.07,"y":-0.017},{"x":3.12,"y":0.012},{"x":3.17,"y":-0.006},
{"x":-5.50,"y":0.090},{"x":-5.30,"y":0.100},{"x":-5.05,"y":0.075},{"x":-4.90,"y":0.095},{"x":-4.70,"y":0.062},{"x":-4.55,"y":0.085},{"x":-4.38,"y":0.075},{"x":-4.20,"y":0.058},{"x":-4.05,"y":0.080},{"x":-3.95,"y":0.070},{"x":-3.80,"y":0.055},{"x":-3.62,"y":0.072},{"x":-3.52,"y":0.060},{"x":-3.30,"y":0.048},{"x":-3.10,"y":0.062},{"x":-2.95,"y":0.050},{"x":-2.85,"y":0.066},{"x":-2.70,"y":0.045},{"x":-2.55,"y":0.058},{"x":-2.35,"y":0.052},{"x":-2.12,"y":0.061},{"x":-1.98,"y":0.070},{"x":-1.80,"y":0.055},{"x":-1.65,"y":0.048},{"x":-1.52,"y":0.062},{"x":-1.38,"y":0.045},{"x":-1.15,"y":0.055},{"x":-1.02,"y":0.050},{"x":-0.92,"y":0.060},{"x":-0.75,"y":0.052},{"x":-0.62,"y":0.044},{"x":-0.52,"y":0.065},{"x":-0.35,"y":0.055},{"x":-0.18,"y":0.062},{"x":-0.05,"y":0.047},{"x":0.08,"y":0.052},{"x":0.22,"y":0.058},{"x":0.35,"y":0.046},{"x":0.48,"y":0.064},{"x":0.62,"y":0.055},{"x":0.78,"y":0.047},{"x":0.95,"y":0.060},{"x":1.10,"y":0.052},{"x":1.25,"y":0.068},{"x":1.42,"y":0.058},{"x":1.58,"y":0.075},{"x":1.75,"y":0.064},{"x":1.95,"y":0.082},{"x":2.15,"y":0.070},{"x":2.32,"y":0.058},{"x":2.50,"y":0.072},{"x":2.68,"y":0.062},{"x":2.85,"y":0.085},{"x":3.02,"y":0.068},{"x":3.15,"y":0.090},
{"x":-5.55,"y":-0.105},{"x":-5.25,"y":-0.090},{"x":-5.02,"y":-0.085},{"x":-4.85,"y":-0.060},{"x":-4.65,"y":-0.072},{"x":-4.45,"y":-0.055},{"x":-4.30,"y":-0.078},{"x":-4.10,"y":-0.062},{"x":-3.92,"y":-0.070},{"x":-3.75,"y":-0.055},{"x":-3.58,"y":-0.078},{"x":-3.45,"y":-0.060},{"x":-3.28,"y":-0.070},{"x":-3.12,"y":-0.055},{"x":-2.92,"y":-0.065},{"x":-2.78,"y":-0.075},{"x":-2.62,"y":-0.058},{"x":-2.45,"y":-0.068},{"x":-2.28,"y":-0.050},{"x":-2.10,"y":-0.045},{"x":-1.92,"y":-0.055},{"x":-1.72,"y":-0.048},{"x":-1.58,"y":-0.062},{"x":-1.42,"y":-0.055},{"x":-1.25,"y":-0.068},{"x":-1.08,"y":-0.052},{"x":-0.90,"y":-0.060},{"x":-0.72,"y":-0.050},{"x":-0.58,"y":-0.062},{"x":-0.42,"y":-0.048},{"x":-0.25,"y":-0.060},{"x":-0.08,"y":-0.052},{"x":0.05,"y":-0.062},{"x":0.18,"y":-0.050},{"x":0.32,"y":-0.058},{"x":0.45,"y":-0.045},{"x":0.58,"y":-0.065},{"x":0.72,"y":-0.052},{"x":0.88,"y":-0.058},{"x":1.02,"y":-0.070},{"x":1.18,"y":-0.055},{"x":1.32,"y":-0.065},{"x":1.48,"y":-0.075},{"x":1.62,"y":-0.058},{"x":1.80,"y":-0.068},{"x":1.98,"y":-0.080},{"x":2.12,"y":-0.062},{"x":2.28,"y":-0.075},{"x":2.45,"y":-0.060},{"x":2.62,"y":-0.085},{"x":2.78,"y":-0.068},{"x":2.95,"y":-0.058},{"x":3.10,"y":-0.080},
{"x":-5.86,"y":0.130},{"x":-4.33,"y":0.127},{"x":-4.08,"y":0.124},{"x":-3.17,"y":0.099},{"x":-3.18,"y":0.094},{"x":-4.06,"y":-0.115},{"x":-3.56,"y":-0.130},{"x":-3.37,"y":-0.120},{"x":-3.14,"y":-0.120},{"x":-3.16,"y":-0.142},{"x":-3.43,"y":-0.104},{"x":-3.29,"y":-0.105},{"x":-2.57,"y":0.127},{"x":-2.15,"y":0.128},{"x":-1.61,"y":0.123},{"x":-2.79,"y":0.103},{"x":-2.42,"y":0.110},{"x":-2.40,"y":0.101},{"x":-2.60,"y":0.095},{"x":-2.23,"y":0.087},{"x":-1.94,"y":0.091},{"x":-1.69,"y":0.091},{"x":-1.24,"y":0.108},{"x":-0.41,"y":0.104},{"x":-0.49,"y":0.098},{"x":-1.34,"y":0.074},{"x":-0.95,"y":0.073},{"x":-0.04,"y":0.073},{"x":0.19,"y":0.076},{"x":-3.06,"y":-0.102},{"x":-2.84,"y":-0.112},{"x":-2.48,"y":-0.097},{"x":-2.54,"y":-0.082},{"x":-1.65,"y":-0.089},{"x":-1.63,"y":-0.111},{"x":-1.40,"y":-0.120},{"x":-0.97,"y":-0.118},{"x":-0.90,"y":-0.107},{"x":-0.72,"y":-0.093},{"x":-0.82,"y":-0.084},{"x":-0.24,"y":-0.104},{"x":0.15,"y":-0.112},{"x":0.11,"y":-0.122},{"x":-0.43,"y":-0.079},{"x":0.51,"y":0.093},{"x":1.65,"y":0.107},{"x":2.06,"y":0.131},{"x":2.17,"y":0.117},{"x":0.05,"y":0.072},{"x":0.21,"y":-0.081},{"x":0.09,"y":-0.121},{"x":0.38,"y":-0.129},{"x":1.13,"y":-0.115},{"x":1.36,"y":-0.113},{"x":1.64,"y":-0.114},{"x":1.34,"y":-0.096},{"x":1.83,"y":-0.098},{"x":2.17,"y":-0.132},{"x":2.79,"y":-0.107},{"x":2.39,"y":-0.089},{"x":-5.57,"y":0.099},{"x":-5.35,"y":0.084},{"x":-5.22,"y":0.111}
 ]
},
"vconcat": [
 {
  "width": 443, "height": 318,
  "layer": [
   {"data": {"name": "curves"}, "mark": {"type": "area", "color": "#ffff00", "opacity": 1, "clip": true},
    "encoding": {
     "x": {"field": "x", "type": "quantitative", "scale": {"domain": [-6, 3.2], "nice": false, "zero": false}, "axis": {"values": [-6, -4, -2, 0, 2], "format": "d", "title": null}},
     "y": {"field": "yl", "type": "quantitative", "scale": {"domain": [-0.15, 0.15], "nice": false, "zero": false}, "axis": {"values": [-0.15, -0.1, -0.05, 0, 0.05, 0.1, 0.15], "format": ".2f", "title": "Standard Deviation and Bias"}},
     "y2": {"field": "yh"}}},
   {"data": {"name": "curves"}, "mark": {"type": "area", "color": "#00ff00", "opacity": 1, "clip": true},
    "encoding": {"x": {"field": "x", "type": "quantitative"}, "y": {"field": "gl", "type": "quantitative"}, "y2": {"field": "gh"}}},
   {"data": {"name": "points"}, "mark": {"type": "point", "shape": "square", "filled": true, "size": 9, "color": "#1f77b4", "opacity": 0.75, "clip": true},
    "encoding": {"x": {"field": "x", "type": "quantitative"}, "y": {"field": "y", "type": "quantitative"}}},
   {"data": {"name": "curves"}, "mark": {"type": "line", "color": "black", "strokeWidth": 1.2, "strokeDash": [5, 3], "clip": true},
    "encoding": {"x": {"field": "x", "type": "quantitative"}, "y": {"field": "dh", "type": "quantitative"}}},
   {"data": {"name": "curves"}, "mark": {"type": "line", "color": "black", "strokeWidth": 1.2, "strokeDash": [5, 3], "clip": true},
    "encoding": {"x": {"field": "x", "type": "quantitative"}, "y": {"field": "dl", "type": "quantitative"}}},
   {"data": {"name": "curves"}, "mark": {"type": "line", "color": "black", "strokeWidth": 2, "strokeDash": [2, 3.5], "clip": true},
    "encoding": {"x": {"field": "x", "type": "quantitative"}, "y": {"field": "oh", "type": "quantitative"}}},
   {"data": {"name": "curves"}, "mark": {"type": "line", "color": "black", "strokeWidth": 2, "strokeDash": [2, 3.5], "clip": true},
    "encoding": {"x": {"field": "x", "type": "quantitative"}, "y": {"field": "ol", "type": "quantitative"}}},
   {"data": {"name": "curves"}, "mark": {"type": "line", "color": "black", "strokeWidth": 1, "clip": true},
    "encoding": {"x": {"field": "x", "type": "quantitative"}, "y": {"field": "m", "type": "quantitative"}}}
  ]
 },
 {
  "width": 443, "height": 318,
  "data": {"name": "hist"},
  "mark": {"type": "bar", "color": "#1f77b4", "stroke": "#1f77b4", "strokeWidth": 0.3},
  "encoding": {
   "x": {"field": "bin_start", "type": "quantitative", "scale": {"domain": [-6, 3.2], "nice": false, "zero": false}, "axis": {"values": [-6, -4, -2, 0, 2], "format": "d", "title": "log₁₀(σ¹⁴ ᵀᵉⱽ SUSY)[log₁₀(fb)]", "titlePadding": 4}},
   "x2": {"field": "bin_end"},
   "y": {"field": "count", "type": "quantitative", "scale": {"domain": [0, 1260], "nice": false}, "axis": {"values": [0, 200, 400, 600, 800, 1000, 1200], "format": "d", "title": "Counts"}},
   "y2": {"datum": 0}
  }
 }
]
}
